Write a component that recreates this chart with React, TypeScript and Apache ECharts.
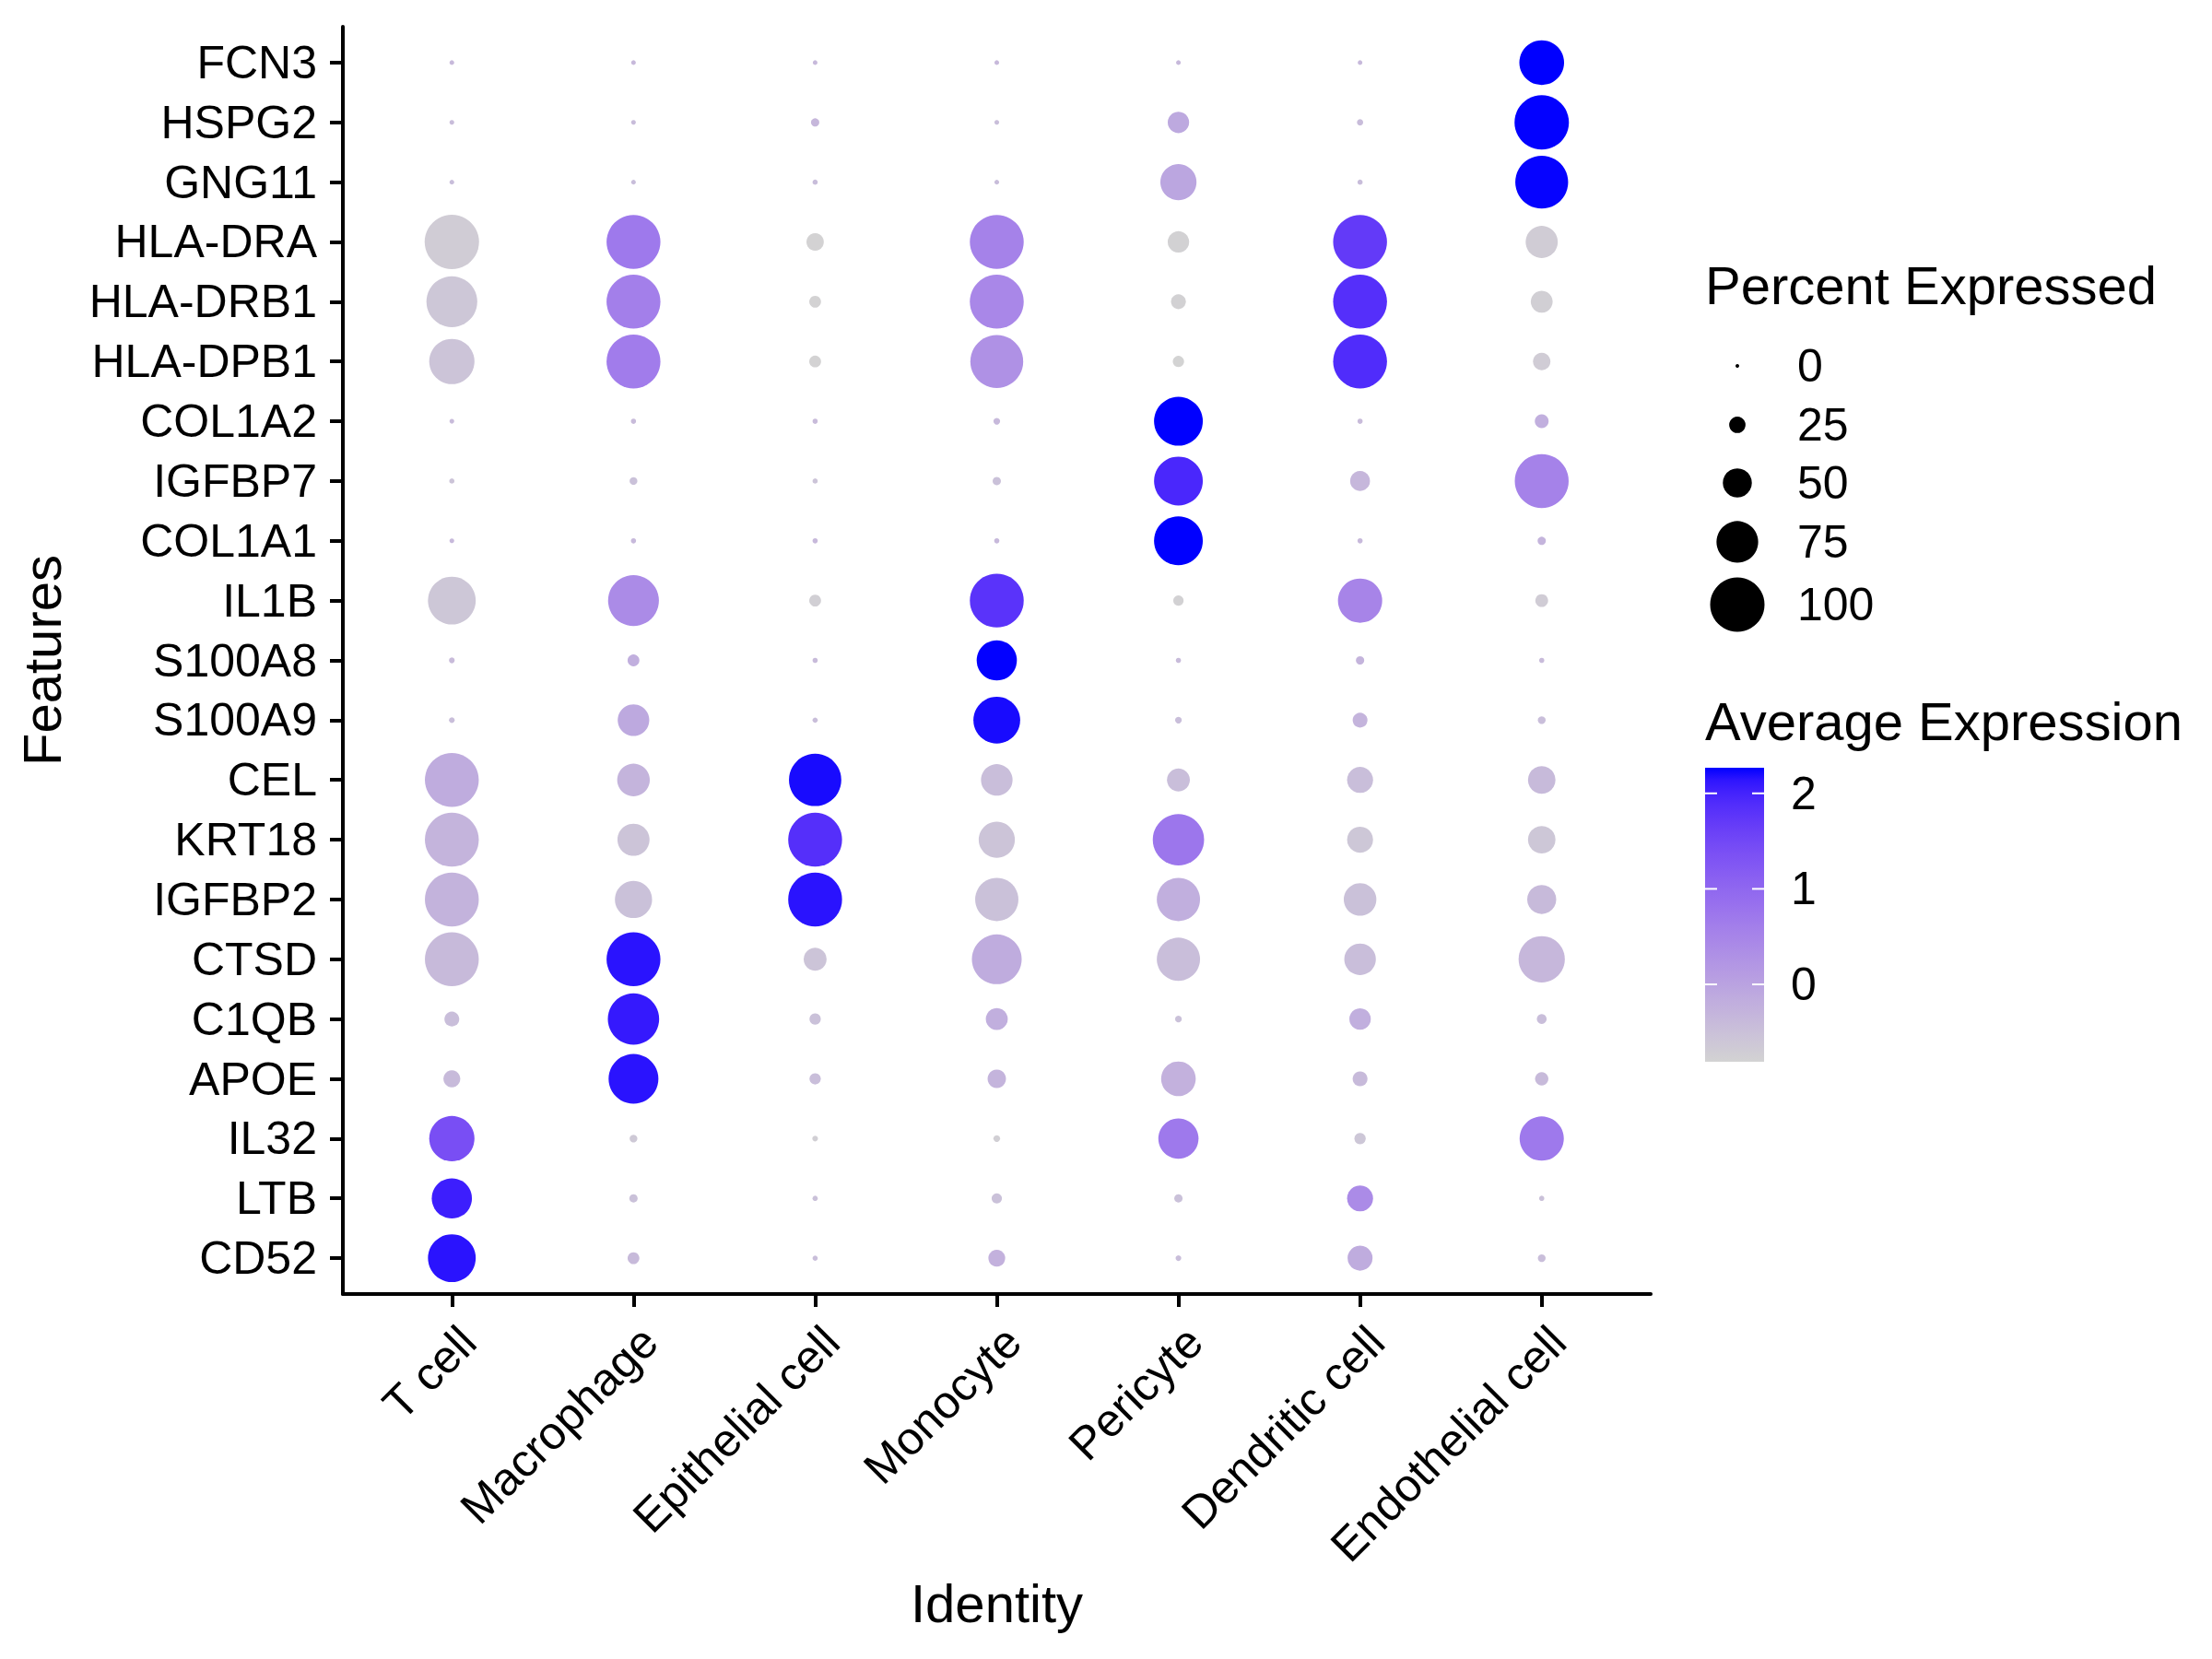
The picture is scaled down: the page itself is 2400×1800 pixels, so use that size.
import React, { useEffect, useRef } from "react";
import * as echarts from "echarts";

const cells = ["T cell", "Macrophage", "Epithelial cell", "Monocyte", "Pericyte", "Dendritic cell", "Endothelial cell"];
const features = ["FCN3", "HSPG2", "GNG11", "HLA-DRA", "HLA-DRB1", "HLA-DPB1", "COL1A2", "IGFBP7", "COL1A1", "IL1B", "S100A8", "S100A9", "CEL", "KRT18", "IGFBP2", "CTSD", "C1QB", "APOE", "IL32", "LTB", "CD52"];

// percent expressed, one row per feature (columns follow `cells`)
const pctFCN3 = [2, 2, 2, 2, 2, 2, 81];
const pctHSPG2 = [2, 2, 9, 2, 35, 5, 100];
const pctGNG11 = [2, 2, 3, 2, 64, 3, 97];
const pctHLADRA = [100, 99, 27, 99, 35, 99, 56];
const pctHLADRB1 = [93, 99, 16, 99, 22, 99, 36];
const pctHLADPB1 = [82, 99, 16, 97, 15, 99, 27];
const pctCOL1A2 = [2, 3, 3, 6, 89, 3, 20];
const pctIGFBP7 = [3, 8, 3, 9, 89, 32, 99];
const pctCOL1A1 = [2, 3, 3, 3, 89, 3, 9];
const pctIL1B = [87, 93, 16, 99, 13, 80, 18];
const pctS100A8 = [4, 16, 3, 72, 3, 9, 3];
const pctS100A9 = [4, 55, 3, 85, 6, 22, 8];
const pctCEL = [99, 57, 96, 55, 38, 44, 47];
const pctKRT18 = [99, 56, 99, 64, 94, 44, 47];
const pctIGFBP2 = [99, 66, 99, 78, 78, 57, 50];
const pctCTSD = [99, 99, 38, 91, 78, 55, 84];
const pctC1QB = [22, 94, 15, 36, 6, 35, 12];
const pctAPOE = [26, 91, 15, 29, 61, 22, 19];
const pctIL32 = [82, 8, 4, 6, 72, 15, 80];
const pctLTB = [72, 9, 3, 13, 9, 44, 3];
const pctCD52 = [87, 16, 3, 26, 4, 42, 8];

// scaled average expression
const avgFCN3 = [-0.38, -0.38, -0.38, -0.38, -0.38, -0.38, 2.27];
const avgHSPG2 = [-0.43, -0.43, -0.35, -0.45, -0.1, -0.42, 2.26];
const avgGNG11 = [-0.44, -0.44, -0.44, -0.44, -0.05, -0.44, 2.25];
const avgHLADRA = [-0.7, 0.7, -0.8, 0.55, -0.78, 1.7, -0.7];
const avgHLADRB1 = [-0.6, 0.6, -0.8, 0.45, -0.78, 1.85, -0.75];
const avgHLADPB1 = [-0.55, 0.65, -0.8, 0.3, -0.81, 1.9, -0.7];
const avgCOL1A2 = [-0.41, -0.41, -0.41, -0.38, 2.27, -0.41, -0.2];
const avgIGFBP7 = [-0.55, -0.5, -0.55, -0.5, 1.95, -0.35, 0.55];
const avgCOL1A1 = [-0.38, -0.38, -0.38, -0.38, 2.27, -0.38, -0.3];
const avgIL1B = [-0.6, 0.4, -0.75, 1.8, -0.78, 0.5, -0.7];
const avgS100A8 = [-0.41, -0.2, -0.41, 2.26, -0.41, -0.3, -0.41];
const avgS100A9 = [-0.45, -0.1, -0.45, 2.2, -0.45, -0.3, -0.45];
const avgCEL = [-0.15, -0.3, 2.2, -0.45, -0.45, -0.45, -0.4];
const avgKRT18 = [-0.3, -0.55, 1.85, -0.55, 0.75, -0.6, -0.6];
const avgIGFBP2 = [-0.28, -0.5, 2.15, -0.5, -0.2, -0.5, -0.4];
const avgCTSD = [-0.4, 2.15, -0.55, -0.15, -0.45, -0.45, -0.35];
const avgC1QB = [-0.45, 2.1, -0.5, -0.2, -0.5, -0.2, -0.45];
const avgAPOE = [-0.4, 2.15, -0.45, -0.3, -0.25, -0.4, -0.4];
const avgIL32 = [1.4, -0.65, -0.75, -0.75, 0.7, -0.6, 0.7];
const avgLTB = [2.05, -0.5, -0.5, -0.5, -0.5, 0.4, -0.5];
const avgCD52 = [2.15, -0.4, -0.45, -0.25, -0.45, -0.15, -0.45];

const pctRows = [pctFCN3, pctHSPG2, pctGNG11, pctHLADRA, pctHLADRB1, pctHLADPB1, pctCOL1A2, pctIGFBP7, pctCOL1A1, pctIL1B, pctS100A8, pctS100A9, pctCEL, pctKRT18, pctIGFBP2, pctCTSD, pctC1QB, pctAPOE, pctIL32, pctLTB, pctCD52];
const avgRows = [avgFCN3, avgHSPG2, avgGNG11, avgHLADRA, avgHLADRB1, avgHLADPB1, avgCOL1A2, avgIGFBP7, avgCOL1A1, avgIL1B, avgS100A8, avgS100A9, avgCEL, avgKRT18, avgIGFBP2, avgCTSD, avgC1QB, avgAPOE, avgIL32, avgLTB, avgCD52];

const sizeBreaks = [0, 25, 50, 75, 100];
const colorBreaks = [2, 1, 0];
const colorMin = -0.81;
const colorMax = 2.268;

const FONT = '"Liberation Sans", Arial, Helvetica, sans-serif';

// ---- colour helpers: CIELAB interpolation lightgrey -> blue (like ggplot) ----
function toLin(c: number) { c /= 255; return c <= 0.04045 ? c / 12.92 : Math.pow((c + 0.055) / 1.055, 2.4); }
function fromLin(c: number) { const v = c <= 0.0031308 ? 12.92 * c : 1.055 * Math.pow(c, 1 / 2.4) - 0.055; return Math.max(0, Math.min(255, Math.round(v * 255))); }
function rgbToLab(r: number, g: number, b: number) {
  const R = toLin(r), G = toLin(g), B = toLin(b);
  const X = (0.4124 * R + 0.3576 * G + 0.1805 * B) / 0.95047;
  const Y = 0.2126 * R + 0.7152 * G + 0.0722 * B;
  const Z = (0.0193 * R + 0.1192 * G + 0.9505 * B) / 1.08883;
  const f = (t: number) => (t > 0.008856 ? Math.cbrt(t) : 7.787 * t + 16 / 116);
  const fx = f(X), fy = f(Y), fz = f(Z);
  return [116 * fy - 16, 500 * (fx - fy), 200 * (fy - fz)];
}
function labToRgb(L: number, a: number, b: number) {
  const fy = (L + 16) / 116, fx = fy + a / 500, fz = fy - b / 200;
  const inv = (t: number) => (t * t * t > 0.008856 ? t * t * t : (t - 16 / 116) / 7.787);
  const X = inv(fx) * 0.95047, Y = inv(fy), Z = inv(fz) * 1.08883;
  const R = 3.2406 * X - 1.5372 * Y - 0.4986 * Z;
  const G = -0.9689 * X + 1.8758 * Y + 0.0415 * Z;
  const B = 0.0557 * X - 0.204 * Y + 1.057 * Z;
  return `rgb(${fromLin(R)},${fromLin(G)},${fromLin(B)})`;
}
const labLow = rgbToLab(211, 211, 211);
const labHigh = rgbToLab(0, 0, 255);
function ramp(t: number) {
  return labToRgb(
    labLow[0] + (labHigh[0] - labLow[0]) * t,
    labLow[1] + (labHigh[1] - labLow[1]) * t,
    labLow[2] + (labHigh[2] - labLow[2]) * t
  );
}
const NSTOPS = 24;
const rampColors = Array.from({ length: NSTOPS + 1 }, (_, i) => ramp(i / NSTOPS));

const dotSize = (p: number) => 4 + 0.55 * p;

export default function App() {
  const ref = useRef<HTMLDivElement>(null);
  useEffect(() => {
    if (!ref.current) return;
    const chart = echarts.init(ref.current, undefined, { renderer: "svg" });

    const data: number[][] = [];
    features.forEach((_, r) => {
      cells.forEach((__, c) => {
        data.push([c, r, pctRows[r][c], avgRows[r][c]]);
      });
    });

    // legend geometry
    const legX = 1850;
    const sizeRowY = [397, 461, 524, 588, 656];
    const barX = 1850, barW = 64, barTop = 833, barH = 319;
    const yOfVal = (v: number) => barTop + ((colorMax - v) / (colorMax - colorMin)) * barH;

    const graphic: any[] = [
      { type: "text", x: legX, y: 309, style: { text: "Percent Expressed", fontSize: 58, fontFamily: FONT, fill: "#000", align: "left", verticalAlign: "middle" } },
      ...sizeBreaks.map((b, i) => ({ type: "circle", shape: { cx: 1885, cy: sizeRowY[i], r: dotSize(b) / 2 }, style: { fill: "#000" } })),
      ...sizeBreaks.map((b, i) => ({ type: "text", x: 1950, y: sizeRowY[i], style: { text: String(b), fontSize: 50, fontFamily: FONT, fill: "#000", align: "left", verticalAlign: "middle" } })),
      { type: "text", x: legX, y: 782, style: { text: "Average Expression", fontSize: 58, fontFamily: FONT, fill: "#000", align: "left", verticalAlign: "middle" } },
      {
        type: "rect",
        shape: { x: barX, y: barTop, width: barW, height: barH },
        style: {
          fill: new echarts.graphic.LinearGradient(0, 0, 0, 1, rampColors.map((c, i) => ({ offset: 1 - i / NSTOPS, color: c })).reverse()),
        },
      },
      ...colorBreaks.flatMap((v) => [
        { type: "line", shape: { x1: barX, y1: yOfVal(v), x2: barX + 13, y2: yOfVal(v) }, style: { stroke: "#fff", lineWidth: 2 } },
        { type: "line", shape: { x1: barX + barW - 13, y1: yOfVal(v), x2: barX + barW, y2: yOfVal(v) }, style: { stroke: "#fff", lineWidth: 2 } },
        { type: "text", x: 1943, y: yOfVal(v), style: { text: String(v), fontSize: 50, fontFamily: FONT, fill: "#000", align: "left", verticalAlign: "middle" } },
      ]),
    ];

    chart.setOption({
      animation: false,
      backgroundColor: "#fff",
      grid: { left: 372, right: 609, top: 29, bottom: 396, containLabel: false },
      xAxis: {
        type: "value",
        min: -0.6,
        max: cells.length - 1 + 0.6,
        name: "Identity",
        nameLocation: "middle",
        nameGap: 305,
        nameTextStyle: { fontSize: 58, fontFamily: FONT, color: "#000" },
        axisLine: { show: true, onZero: false, lineStyle: { color: "#000", width: 4 } },
        axisTick: { show: true, length: 14, lineStyle: { color: "#000", width: 4 }, customValues: cells.map((_, i) => i) },
        axisLabel: {
          customValues: cells.map((_, i) => i),
          formatter: (v: number) => cells[Math.round(v)] ?? "",
          rotate: 45,
          align: "right",
          verticalAlign: "top",
          margin: 26,
          fontSize: 50,
          fontFamily: FONT,
          color: "#000",
        },
        splitLine: { show: false },
      },
      yAxis: {
        type: "value",
        inverse: true,
        min: -0.6,
        max: features.length - 1 + 0.6,
        name: "Features",
        nameLocation: "middle",
        nameGap: 298,
        nameRotate: 90,
        nameTextStyle: { fontSize: 58, fontFamily: FONT, color: "#000" },
        axisLine: { show: true, onZero: false, lineStyle: { color: "#000", width: 4 } },
        axisTick: { show: true, length: 14, lineStyle: { color: "#000", width: 4 }, customValues: features.map((_, i) => i) },
        axisLabel: {
          customValues: features.map((_, i) => i),
          formatter: (v: number) => features[Math.round(v)] ?? "",
          margin: 28,
          fontSize: 50,
          fontFamily: FONT,
          color: "#000",
        },
        splitLine: { show: false },
      },
      visualMap: {
        type: "continuous",
        show: false,
        dimension: 3,
        min: colorMin,
        max: colorMax,
        seriesIndex: 0,
        inRange: { color: rampColors },
      },
      series: [
        {
          type: "scatter",
          data,
          symbol: "circle",
          symbolSize: (v: number[]) => dotSize(v[2]),
          itemStyle: { opacity: 1 },
          emphasis: { disabled: true },
        },
      ],
      graphic,
    });

    return () => chart.dispose();
  }, []);

  return <div ref={ref} style={{ position: "absolute", left: 0, top: 0, width: 2400, height: 1800 }} />;
}
